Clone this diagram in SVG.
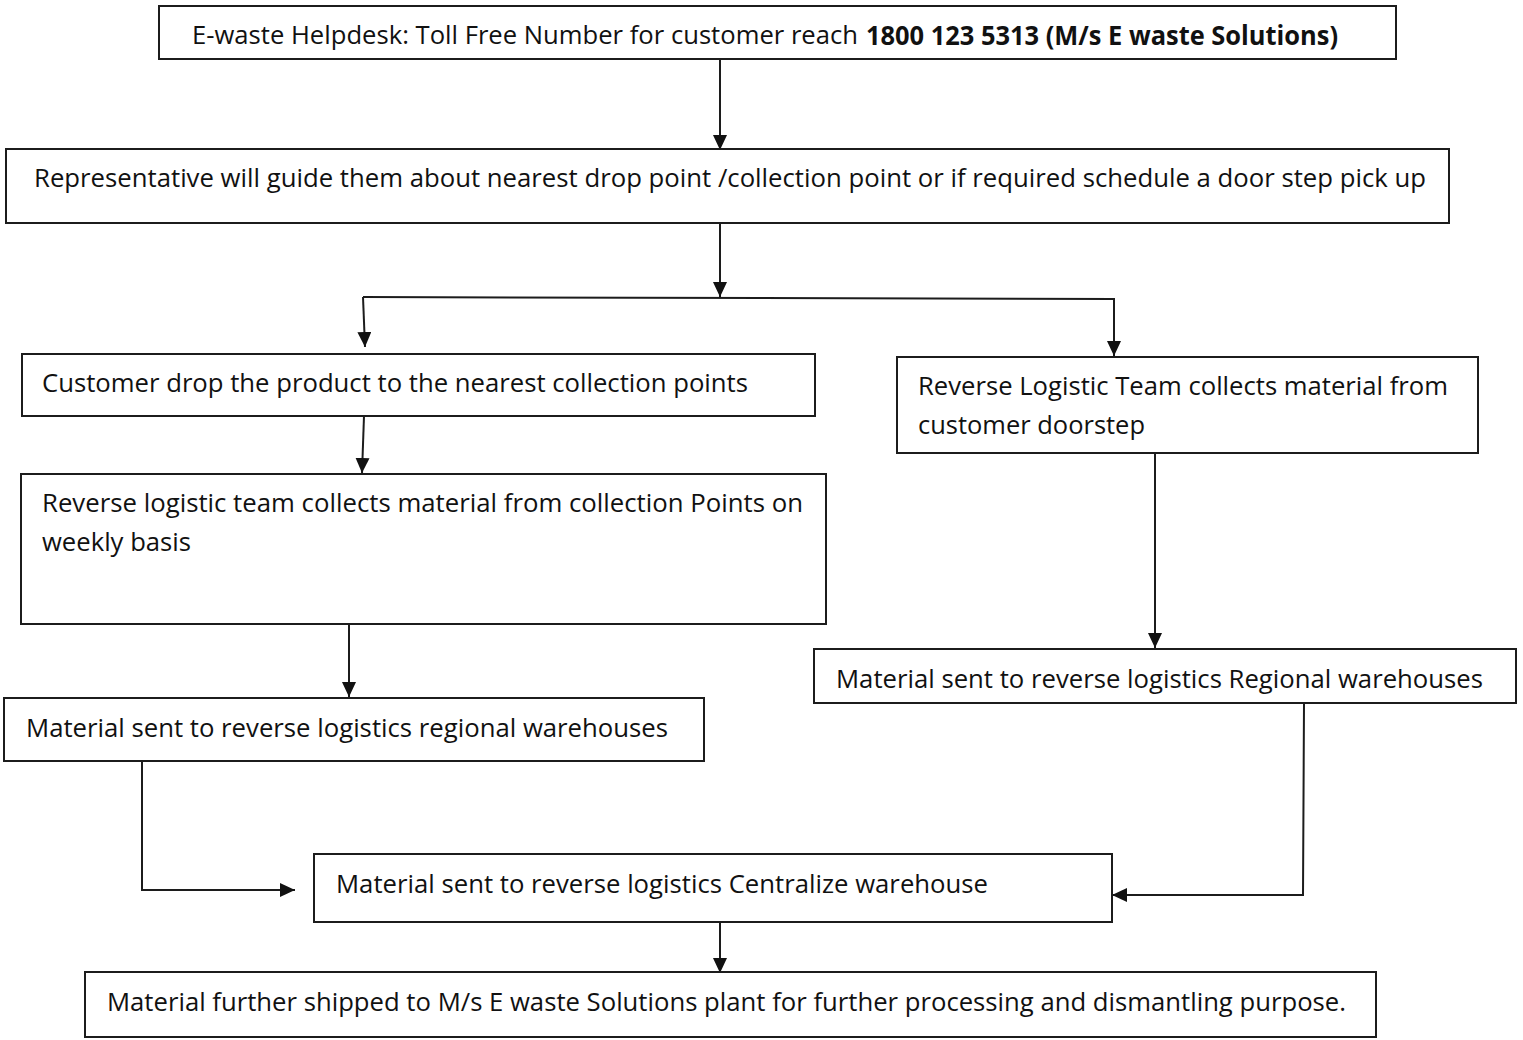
<svg xmlns="http://www.w3.org/2000/svg" width="1523" height="1040" viewBox="0 0 1523 1040">
  <style>
    .box { fill: #ffffff; stroke: #1c1c1c; stroke-width: 2; }
    .lbl { font-family: "Open Sans", "Lato", "Liberation Sans", sans-serif; font-size: 26px; fill: #111111; }
    .b { font-weight: bold; }
    .conn { fill: none; stroke: #1c1c1c; stroke-width: 2; }
  </style>
  <defs>
    <marker id="arr" markerUnits="userSpaceOnUse" markerWidth="16" markerHeight="14" refX="15" refY="7" orient="auto">
      <path d="M0,0 L15,7 L0,14 z" fill="#111111"/>
    </marker>
  </defs>
  <rect width="1523" height="1040" fill="#ffffff"/>

  <g id="connectors">
    <line class="conn" x1="720" y1="59" x2="720" y2="150" marker-end="url(#arr)"/>
    <line class="conn" x1="720" y1="224" x2="720" y2="297" marker-end="url(#arr)"/>
    <polyline class="conn" points="363,297 1114,299 1114,356" marker-end="url(#arr)"/>
    <line class="conn" x1="363" y1="297" x2="365" y2="347" marker-end="url(#arr)"/>
    <line class="conn" x1="364" y1="416" x2="362" y2="473" marker-end="url(#arr)"/>
    <line class="conn" x1="349" y1="624" x2="349" y2="697" marker-end="url(#arr)"/>
    <line class="conn" x1="1155" y1="453" x2="1155" y2="648" marker-end="url(#arr)"/>
    <polyline class="conn" points="142,761 142,890 295,890" marker-end="url(#arr)"/>
    <polyline class="conn" points="1304,704 1303,895 1112,895" marker-end="url(#arr)"/>
    <line class="conn" x1="720" y1="923" x2="720" y2="973" marker-end="url(#arr)"/>
  </g>

  <g id="helpdesk">
    <rect class="box" x="159" y="6" width="1237" height="53"/>
    <text class="lbl" x="192" y="44" textLength="666" lengthAdjust="spacingAndGlyphs">E-waste Helpdesk: Toll Free Number for customer reach</text>
    <text class="lbl b" x="866" y="45" textLength="472" lengthAdjust="spacingAndGlyphs">1800 123 5313 (M/s E waste Solutions)</text>
  </g>

  <g id="representative">
    <rect class="box" x="6" y="149" width="1443" height="74"/>
    <text class="lbl" x="34" y="187" textLength="1392" lengthAdjust="spacingAndGlyphs">Representative will guide them about nearest drop point /collection point or if required schedule a door step pick up</text>
  </g>

  <g id="customer-drop">
    <rect class="box" x="22" y="354" width="793" height="62"/>
    <text class="lbl" x="42" y="392" textLength="706" lengthAdjust="spacingAndGlyphs">Customer drop the product to the nearest collection points</text>
  </g>

  <g id="doorstep-collection">
    <rect class="box" x="897" y="357" width="581" height="96"/>
    <text class="lbl" x="918" y="395" textLength="530" lengthAdjust="spacingAndGlyphs">Reverse Logistic Team collects material from</text>
    <text class="lbl" x="918" y="434" textLength="227" lengthAdjust="spacingAndGlyphs">customer doorstep</text>
  </g>

  <g id="weekly-collection">
    <rect class="box" x="21" y="474" width="805" height="150"/>
    <text class="lbl" x="42" y="512" textLength="761" lengthAdjust="spacingAndGlyphs">Reverse logistic team collects material from collection Points on</text>
    <text class="lbl" x="42" y="551" textLength="149" lengthAdjust="spacingAndGlyphs">weekly basis</text>
  </g>

  <g id="regional-right">
    <rect class="box" x="814" y="649" width="702" height="54"/>
    <text class="lbl" x="836" y="688" textLength="647" lengthAdjust="spacingAndGlyphs">Material sent to reverse logistics Regional warehouses</text>
  </g>

  <g id="regional-left">
    <rect class="box" x="4" y="698" width="700" height="63"/>
    <text class="lbl" x="26" y="737" textLength="642" lengthAdjust="spacingAndGlyphs">Material sent to reverse logistics regional warehouses</text>
  </g>

  <g id="centralize">
    <rect class="box" x="314" y="854" width="798" height="68"/>
    <text class="lbl" x="336" y="893" textLength="652" lengthAdjust="spacingAndGlyphs">Material sent to reverse logistics Centralize warehouse</text>
  </g>

  <g id="plant">
    <rect class="box" x="85" y="972" width="1291" height="65"/>
    <text class="lbl" x="107" y="1011" textLength="1239" lengthAdjust="spacingAndGlyphs">Material further shipped to M/s E waste Solutions plant for further processing and dismantling purpose.</text>
  </g>
</svg>
